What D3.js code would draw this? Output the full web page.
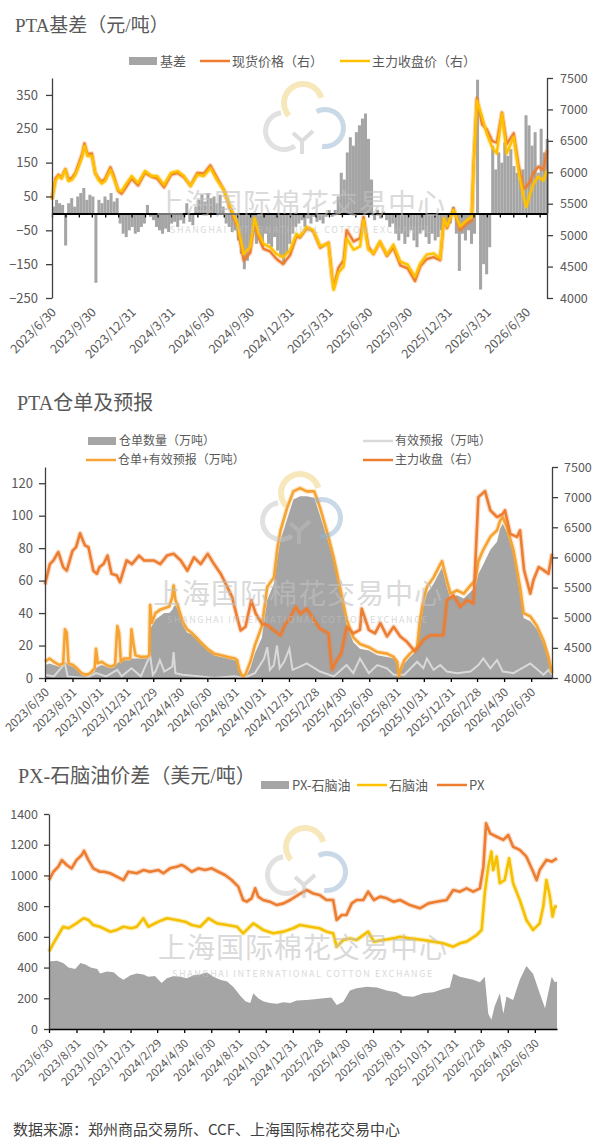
<!DOCTYPE html>
<html><head><meta charset="utf-8">
<script src="https://cdn.jsdelivr.net/npm/d3@7"></script>
<style>
body{margin:0;background:#fff}
svg text{font-family:"Noto Sans CJK SC","Noto Sans",sans-serif}
</style></head>
<body><svg id="c" width="601" height="1148"></svg>
<script>
// ---------------- DATA ----------------
// Panel 1: PTA basis
const topXLabels = ["2023/6/30","2023/9/30","2023/12/31","2024/3/31","2024/6/30","2024/9/30","2024/12/31","2025/3/31","2025/6/30","2025/9/30","2025/12/31","2026/3/31","2026/6/30"];
const topLeftTicks = [-250,-150,-50,50,150,250,350];
const topRightTicks = [4000,4500,5000,5500,6000,6500,7000,7500];
const basisStart = "2023-06-30"; // weekly bars
const basisWeekly = [
 20,40,30,25,-95,30,45,20,50,60,75,40,55,50,-205,40,30,50,40,60,35,45,-30,-60,-70,-50,-40,
 -60,-55,-40,-30,25,-10,-20,-40,-50,-60,-45,-55,-30,-25,-40,-20,-30,30,-25,-35,20,40,55,35,60,45,50,30,55,20,-30,-40,-55,-50,-80,-120,-165,-140,-100,-60,-90,-70,-100,-60,-90,-100,-70,-110,-130,-150,-120,-90,
 -60,-40,-30,-20,-40,-15,-30,-10,-25,-20,-30,-10,10,-10,10,50,120,100,180,225,200,240,260,280,295,220,100,-20,10,-15,5,-20,-40,-30,-60,-80,-60,-90,-70,-50,-80,-100,-60,-50,-70,-90,-60,-80,-70,-50,-20,-40,
 -30,20,-60,-170,-60,-80,-50,-90,-60,395,-225,-150,-180,-100,200,130,180,150,210,170,190,140,120,100,130,290,260,200,240,120,250,180,220
];
const topMainClose = [
 ["2023-06-30",5560],["2023-07-08",5870],["2023-07-15",5940],["2023-07-22",5900],["2023-07-31",6040],["2023-08-07",5860],["2023-08-15",5880],["2023-08-23",5960],["2023-08-31",6100],["2023-09-08",6250],["2023-09-13",6420],["2023-09-20",6260],["2023-09-30",6260],["2023-10-08",6000],["2023-10-15",5880],["2023-10-23",5820],["2023-10-31",5860],["2023-11-12",6040],["2023-11-20",5900],["2023-11-30",5720],["2023-12-08",5700],["2023-12-15",5780],["2023-12-31",5940],
 ["2024-01-15",5830],["2024-01-31",6020],["2024-02-15",5940],["2024-02-28",5940],["2024-03-15",5800],["2024-03-31",5990],["2024-04-15",6020],["2024-04-30",5940],["2024-05-15",5780],["2024-05-31",5960],["2024-06-15",5940],["2024-06-30",6070],["2024-07-15",5880],["2024-07-31",5720],["2024-08-15",5450],["2024-08-31",5190],["2024-09-15",4700],["2024-09-30",4810],["2024-10-10",5270],["2024-10-20",5020],["2024-10-31",4860],["2024-11-15",4810],["2024-11-30",4700],["2024-12-15",4650],["2024-12-31",4760],
 ["2025-01-15",5020],["2025-01-23",4980],["2025-02-08",5130],["2025-02-23",5080],["2025-03-11",4820],["2025-03-30",4870],["2025-04-07",4340],["2025-04-11",4130],["2025-04-22",4400],["2025-05-04",4500],["2025-05-11",4950],["2025-05-27",4770],["2025-06-11",4820],["2025-06-19",5240],["2025-06-30",4770],["2025-07-12",4710],["2025-07-27",4900],["2025-08-12",4690],["2025-08-27",4850],["2025-09-12",4580],["2025-09-29",4530],["2025-10-16",4340],["2025-10-28",4550],["2025-11-12",4690],["2025-11-28",4710],["2025-12-13",4630],["2025-12-22",5270],["2025-12-29",5140],
 ["2026-01-13",5400],["2026-01-28",5140],["2026-02-13",5240],["2026-02-24",5290],["2026-02-28",6030],["2026-03-08",7140],["2026-03-20",6880],["2026-03-31",6610],["2026-04-12",6400],["2026-04-23",6300],["2026-05-05",6930],["2026-05-16",6300],["2026-06-01",6560],["2026-06-12",6030],["2026-06-24",5610],["2026-06-30",5450],["2026-07-09",5660],["2026-07-17",5820],["2026-07-28",5930],["2026-08-09",5870],["2026-08-17",6030]
];
const topSpotPrice = [
 ["2023-06-30",5580],["2023-07-08",5900],["2023-07-15",5960],["2023-07-22",5920],["2023-07-31",6050],["2023-08-07",5890],["2023-08-15",5910],["2023-08-23",5990],["2023-08-31",6140],["2023-09-08",6300],["2023-09-13",6460],["2023-09-20",6290],["2023-09-30",6300],["2023-10-08",5980],["2023-10-15",5910],["2023-10-23",5850],["2023-10-31",5900],["2023-11-12",6080],["2023-11-20",5940],["2023-11-30",5700],["2023-12-08",5660],["2023-12-15",5730],["2023-12-31",5900],
 ["2024-01-15",5790],["2024-01-31",5990],["2024-02-15",5930],["2024-02-28",5900],["2024-03-15",5760],["2024-03-31",5960],["2024-04-15",5990],["2024-04-30",5920],["2024-05-15",5790],["2024-05-31",5990],["2024-06-15",5980],["2024-06-30",6110],["2024-07-15",5920],["2024-07-31",5720],["2024-08-15",5420],["2024-08-31",5140],["2024-09-15",4600],["2024-09-30",4720],["2024-10-10",5200],["2024-10-20",4950],["2024-10-31",4780],["2024-11-15",4740],["2024-11-30",4620],["2024-12-15",4540],["2024-12-31",4680],
 ["2025-01-15",4980],["2025-01-23",4960],["2025-02-08",5110],["2025-02-23",5060],["2025-03-11",4800],["2025-03-30",4880],["2025-04-07",4360],["2025-04-11",4170],["2025-04-22",4480],["2025-05-04",4600],["2025-05-11",5080],["2025-05-27",4900],["2025-06-11",4950],["2025-06-19",5290],["2025-06-30",4820],["2025-07-12",4700],["2025-07-27",4890],["2025-08-12",4670],["2025-08-27",4800],["2025-09-12",4520],["2025-09-29",4470],["2025-10-16",4270],["2025-10-28",4500],["2025-11-12",4620],["2025-11-28",4650],["2025-12-13",4600],["2025-12-22",5260],["2025-12-29",5110],
 ["2026-01-13",5420],["2026-01-28",5080],["2026-02-13",5190],["2026-02-24",5230],["2026-02-28",6050],["2026-03-08",7180],["2026-03-20",6760],["2026-03-31",6680],["2026-04-12",6500],["2026-04-23",6470],["2026-05-05",6950],["2026-05-16",6450],["2026-06-01",6620],["2026-06-12",6120],["2026-06-24",5740],["2026-06-30",5770],["2026-07-09",5850],["2026-07-17",5990],["2026-07-28",6090],["2026-08-09",6040],["2026-08-17",6350]
];

// Panel 2: PTA warehouse receipts & forecast
const midXLabels = ["2023/6/30","2023/8/31","2023/10/31","2023/12/31","2024/2/29","2024/4/30","2024/6/30","2024/8/31","2024/10/31","2024/12/31","2025/2/28","2025/4/30","2025/6/30","2025/8/31","2025/10/31","2025/12/31","2026/2/28","2026/4/30","2026/6/30"];
const midLeftTicks = [0,20,40,60,80,100,120];
const midRightTicks = [4000,4500,5000,5500,6000,6500,7000,7500];
const midDates = ["2023-06-30","2023-07-10","2023-07-20","2023-08-01","2023-08-10","2023-08-14","2023-08-18","2023-08-22","2023-09-01","2023-09-10","2023-09-20","2023-10-01","2023-10-10","2023-10-20","2023-10-23","2023-10-27","2023-11-05","2023-11-15","2023-11-25","2023-12-05","2023-12-10","2023-12-14","2023-12-18","2023-12-25",
 "2024-01-08","2024-01-11","2024-01-15","2024-01-20","2024-02-01","2024-02-15","2024-02-20","2024-02-22","2024-02-26","2024-03-05","2024-03-15","2024-03-25","2024-04-05","2024-04-12","2024-04-15","2024-04-19","2024-04-25","2024-05-05","2024-05-15","2024-05-25","2024-06-05","2024-06-15","2024-06-30","2024-07-15","2024-07-31","2024-08-15","2024-08-31","2024-09-05","2024-09-10","2024-09-15","2024-09-20","2024-09-25","2024-10-05","2024-10-15","2024-10-31","2024-11-12","2024-11-27","2024-12-05","2024-12-12","2024-12-27",
 "2025-01-10","2025-01-25","2025-02-09","2025-02-26","2025-03-11","2025-03-30","2025-04-11","2025-04-28","2025-05-10","2025-05-25","2025-06-09","2025-06-29","2025-07-18","2025-08-09","2025-08-24","2025-09-01","2025-09-05","2025-09-08","2025-09-17","2025-09-30","2025-10-16","2025-10-22","2025-10-30","2025-11-07","2025-11-22","2025-12-07","2025-12-11","2025-12-22","2025-12-30",
 "2026-01-14","2026-01-29","2026-02-13","2026-02-24","2026-03-03","2026-03-14","2026-03-30","2026-04-14","2026-04-21","2026-04-27","2026-05-06","2026-05-21","2026-06-05","2026-06-13","2026-06-28","2026-07-13","2026-07-28","2026-08-08","2026-08-16"];
const midReceipts = [8,9,8,7,8,10,9,8,7,5,2,1,2,4,6,7,8,7,6,7,9,10,9,11,
 11,12,12,12,12,12,13,30,32,36,38,40,40,42,44,45,42,33,28,27,24,21,17,14,13,12,11,10,4,1,0,1,6,15,25,48,58,74,85,98,
 110,112,112,111,100,84,72,50,33,22,18,17,14,13,12,9,0,3,9,13,17,30,44,52,58,66,68,56,49,
 51,49,53,56,64,70,79,84,92,95,90,77,52,37,35,30,21,11,2];
const midReceiptsPlusForecast = [10,12,10,8,9,30,28,9,8,6,3,2,3,6,18,9,10,8,7,8,32,28,10,12,
 12,30,22,14,13,13,14,45,34,40,42,43,44,50,57,48,44,35,30,28,25,22,18,15,14,13,12,11,5,2,1,3,10,20,32,56,62,80,91,105,
 115,117,115,115,105,87,74,52,36,25,21,19,16,15,13,10,1,5,11,15,19,35,48,56,62,70,72,60,52,
 54,52,57,60,72,79,87,91,97,99,93,79,56,40,38,32,23,13,3];
const midForecast = [
 ["2023-06-30",2],["2023-07-20",1],["2023-08-14",9],["2023-08-20",1],["2023-10-01",0],["2023-10-23",3],["2023-11-15",1],["2023-12-10",5],["2023-12-20",1],
 ["2024-01-11",6],["2024-02-01",1],["2024-02-22",14],["2024-02-28",2],["2024-03-05",4],["2024-03-15",11],["2024-03-25",4],["2024-04-12",7],["2024-04-15",16],["2024-04-19",3],["2024-05-05",2],["2024-06-15",1],["2024-07-15",0],["2024-08-31",1],["2024-09-20",0],["2024-10-15",3],["2024-11-05",12],["2024-11-12",19],["2024-11-18",5],["2024-11-27",8],["2024-12-04",20],["2024-12-10",6],["2024-12-20",10],
 ["2025-01-01",18],["2025-01-08",5],["2025-01-25",7],["2025-02-09",9],["2025-03-11",4],["2025-04-11",1],["2025-05-10",8],["2025-05-25",3],["2025-06-09",12],["2025-06-29",3],["2025-07-18",8],["2025-08-09",6],["2025-08-24",2],["2025-09-17",2],["2025-10-16",10],["2025-10-30",6],["2025-11-07",12],["2025-11-22",5],["2025-12-07",8],["2025-12-22",4],
 ["2026-01-14",3],["2026-02-13",4],["2026-03-03",8],["2026-03-14",12],["2026-03-30",6],["2026-04-14",11],["2026-04-27",4],["2026-05-21",3],["2026-06-28",9],["2026-07-28",2],["2026-08-08",5],["2026-08-16",2]
];
const midMainClose = [
 ["2023-06-30",5550],["2023-07-11",5890],["2023-07-19",5950],["2023-07-30",6090],["2023-08-10",5840],["2023-08-18",5780],["2023-08-31",6110],["2023-09-08",6170],["2023-09-17",6400],["2023-09-28",6200],["2023-10-06",6170],["2023-10-17",5780],["2023-10-25",5730],["2023-10-31",5840],["2023-11-09",5890],["2023-11-18",6030],["2023-11-27",5730],["2023-12-09",5700],["2023-12-16",5590],["2023-12-31",5950],
 ["2024-01-12",5890],["2024-01-28",6030],["2024-02-08",5950],["2024-03-01",5950],["2024-03-16",5890],["2024-03-31",6030],["2024-04-15",6060],["2024-05-01",5950],["2024-05-16",5780],["2024-05-31",6000],["2024-06-15",5890],["2024-07-01",6060],["2024-07-15",5890],["2024-07-30",5730],["2024-08-14",5510],["2024-08-25",5340],["2024-09-05",5010],["2024-09-13",4790],["2024-09-24",4850],["2024-10-07",5290],["2024-10-17",5070],["2024-10-31",4900],["2024-11-12",4880],["2024-11-27",4790],["2024-12-12",4710],["2024-12-23",4900],["2024-12-31",4960],
 ["2025-01-15",5180],["2025-01-26",5060],["2025-02-09",5150],["2025-02-26",4960],["2025-03-11",4820],["2025-03-30",4740],["2025-04-07",4140],["2025-04-18",4300],["2025-04-28",4410],["2025-05-10",4850],["2025-05-25",4740],["2025-06-09",4800],["2025-06-13",5150],["2025-06-29",4800],["2025-07-13",4740],["2025-07-25",4910],["2025-08-09",4690],["2025-08-24",4850],["2025-09-08",4690],["2025-09-23",4600],["2025-10-11",4440],["2025-10-30",4630],["2025-11-14",4710],["2025-11-29",4710],["2025-12-14",4710],["2025-12-22",5290],
 ["2026-01-06",5370],["2026-01-21",5180],["2026-02-05",5290],["2026-02-20",5240],["2026-03-03",7000],["2026-03-18",7100],["2026-03-30",6780],["2026-04-14",6670],["2026-04-27",6720],["2026-05-02",6780],["2026-05-14",6390],["2026-05-29",6340],["2026-06-05",6450],["2026-06-14",5790],["2026-06-28",5400],["2026-07-05",5620],["2026-07-17",5840],["2026-07-28",5790],["2026-08-08",5730],["2026-08-16",6060]
];

// Panel 3: PX - naphtha spread
const botXLabels = midXLabels;
const botTicks = [0,200,400,600,800,1000,1200,1400];
const pxPrice = [
 ["2023-06-30",970],["2023-07-10",1024],["2023-07-21",1057],["2023-07-29",1100],["2023-08-09",1068],["2023-08-20",1046],["2023-08-31",1100],["2023-09-12",1133],["2023-09-17",1160],["2023-09-27",1100],["2023-10-08",1046],["2023-10-23",1024],["2023-11-01",1024],["2023-11-15",1014],["2023-11-30",992],["2023-12-15",970],["2023-12-26",1024],
 ["2024-01-14",1014],["2024-01-29",1035],["2024-02-13",1024],["2024-03-03",1035],["2024-03-14",1014],["2024-03-29",1046],["2024-04-13",1057],["2024-04-24",1068],["2024-05-02",1057],["2024-05-17",1024],["2024-06-01",1046],["2024-06-16",1035],["2024-07-01",1046],["2024-07-16",1024],["2024-07-31",1003],["2024-08-15",970],["2024-08-30",927],["2024-09-10",840],["2024-09-18",829],["2024-09-29",851],["2024-10-07",916],["2024-10-14",862],["2024-10-25",840],["2024-11-09",829],["2024-11-25",807],["2024-12-10",818],["2024-12-25",840],
 ["2025-01-16",880],["2025-01-31",905],["2025-02-15",883],["2025-03-01",873],["2025-03-17",840],["2025-04-01",840],["2025-04-09",710],["2025-04-20",742],["2025-05-01",742],["2025-05-13",818],["2025-05-24",840],["2025-06-08",840],["2025-06-19",894],["2025-07-02",840],["2025-07-16",862],["2025-07-31",851],["2025-08-15",829],["2025-08-30",840],["2025-09-21",807],["2025-10-14",786],["2025-11-02",818],["2025-11-20",829],["2025-12-13",840],["2025-12-28",905],
 ["2026-01-12",894],["2026-01-27",916],["2026-02-11",894],["2026-02-26",916],["2026-03-06",1057],["2026-03-12",1339],["2026-03-21",1274],["2026-04-05",1252],["2026-04-20",1231],["2026-05-01",1263],["2026-05-12",1187],["2026-05-27",1166],["2026-06-11",1122],["2026-06-26",1025],["2026-07-04",970],["2026-07-11",1035],["2026-07-26",1101],["2026-08-07",1090],["2026-08-19",1111]
];
const naphthaPrice = [
 ["2023-06-30",504],["2023-07-10",558],["2023-07-21",612],["2023-08-01",666],["2023-08-13",656],["2023-08-31",688],["2023-09-16",721],["2023-09-27",710],["2023-10-08",677],["2023-10-23",666],["2023-11-15",634],["2023-11-30",645],["2023-12-15",666],
 ["2024-01-02",656],["2024-01-14",666],["2024-01-29",721],["2024-02-09",666],["2024-03-03",699],["2024-03-22",721],["2024-04-13",710],["2024-05-02",699],["2024-05-17",677],["2024-06-05",666],["2024-06-24",721],["2024-07-13",688],["2024-08-05",677],["2024-08-27",666],["2024-09-10",623],["2024-10-03",688],["2024-10-25",645],["2024-11-17",623],["2024-12-10",634],
 ["2025-01-01",656],["2025-01-16",677],["2025-02-08",666],["2025-03-01",656],["2025-03-17",634],["2025-04-01",623],["2025-04-09",536],["2025-04-24",580],["2025-05-09",590],["2025-05-24",580],["2025-06-19",634],["2025-07-02",569],["2025-07-23",580],["2025-08-15",590],["2025-08-30",601],["2025-09-21",590],["2025-10-21",580],["2025-11-13",569],["2025-12-05",558],["2025-12-28",536],
 ["2026-01-12",558],["2026-01-27",569],["2026-02-19",612],["2026-03-02",645],["2026-03-09",883],["2026-03-17",1057],["2026-03-24",1155],["2026-03-28",1035],["2026-04-05",1122],["2026-04-12",949],["2026-04-23",970],["2026-05-03",1111],["2026-05-12",949],["2026-05-27",840],["2026-06-11",710],["2026-06-26",645],["2026-07-11",688],["2026-07-19",797],["2026-07-26",970],["2026-08-03",862],["2026-08-09",732],["2026-08-14",797],["2026-08-19",797]
];
const pxNaphthaSpread = [
 ["2023-06-30",440],["2023-07-18",445],["2023-08-01",430],["2023-08-13",400],["2023-08-28",390],["2023-09-09",430],["2023-09-20",420],["2023-10-02",400],["2023-10-17",390],["2023-10-23",362],["2023-11-08",375],["2023-11-23",370],["2023-12-04",340],["2023-12-15",320],["2023-12-31",350],
 ["2024-01-14",362],["2024-01-29",355],["2024-02-09",340],["2024-02-24",345],["2024-03-10",300],["2024-03-22",330],["2024-04-06",345],["2024-04-21",340],["2024-05-06",330],["2024-05-21",350],["2024-06-05",355],["2024-06-20",370],["2024-07-05",340],["2024-07-20",320],["2024-08-05",310],["2024-08-20",270],["2024-09-04",215],["2024-09-15",180],["2024-09-26",170],["2024-10-03",232],["2024-10-14",200],["2024-10-25",180],["2024-11-09",170],["2024-11-25",165],["2024-12-10",175],["2024-12-25",170],
 ["2025-01-09",185],["2025-01-31",189],["2025-02-23",195],["2025-03-10",200],["2025-03-28",205],["2025-04-09",156],["2025-04-24",178],["2025-05-09",250],["2025-05-24",265],["2025-06-16",275],["2025-07-09",270],["2025-07-31",250],["2025-08-22",240],["2025-09-06",215],["2025-09-29",210],["2025-10-21",232],["2025-11-13",240],["2025-12-05",260],["2025-12-20",270],["2025-12-28",360],
 ["2026-01-12",340],["2026-01-27",330],["2026-02-11",320],["2026-02-26",305],["2026-03-09",340],["2026-03-17",100],["2026-03-24",60],["2026-03-31",145],["2026-04-12",232],["2026-04-20",100],["2026-04-27",211],["2026-05-12",189],["2026-05-27",320],["2026-06-11",410],["2026-06-26",360],["2026-07-11",232],["2026-07-23",135],["2026-07-30",232],["2026-08-07",340],["2026-08-14",305],["2026-08-19",310]
];

// ---------------- DRAW ----------------
const parse = d3.timeParse("%Y-%m-%d");
const parseLabel = d3.timeParse("%Y/%m/%d");
const pairs = a => a.map(d => ({date: parse(d[0]), value: d[1]}));
const fmt = d3.format("d");
const svg = d3.select("#c");
const AXIS = "#404040", LABEL = "#595959";
const C_GRAY = "#a5a5a5", C_ORANGE = "#ed7d31", C_YELLOW = "#ffc000", C_LORANGE = "#f5a332", C_LGRAY = "#d9d9d9";

function title(x, y, t, size) {
  svg.append("text").attr("x", x).attr("y", y).attr("fill", "#595959")
    .style("font-family", '"Liberation Serif","Noto Sans CJK SC",serif')
    .attr("font-size", size).text(t);
}
function legendRect(x, y, t, fs) {
  svg.append("rect").attr("x", x).attr("y", y - 4).attr("width", 28).attr("height", 8).attr("fill", C_GRAY);
  svg.append("text").attr("x", x + 31).attr("y", y).attr("dy", "0.35em").attr("font-size", fs).attr("fill", LABEL).text(t);
}
function legendLine(x, y, color, t, fs) {
  svg.append("line").attr("x1", x).attr("x2", x + 30).attr("y1", y).attr("y2", y).attr("stroke", color).attr("stroke-width", 2.5);
  svg.append("text").attr("x", x + 32).attr("y", y).attr("dy", "0.35em").attr("font-size", fs).attr("fill", LABEL).text(t);
}
function styleAxis(g, fs) {
  g.selectAll("path,line").attr("stroke", AXIS).attr("stroke-width", 1.3);
  g.selectAll("text").attr("fill", LABEL).attr("font-size", fs)
    .style("font-family", '"Noto Sans CJK SC","Noto Sans",sans-serif');
}
function xLabels(x, labels, yBase, fs) {
  const g = svg.append("g");
  labels.forEach(l => {
    const px = x(parseLabel(l));
    g.append("text").attr("transform", `translate(${px + 5},${yBase + 15}) rotate(-45)`)
      .attr("text-anchor", "end").attr("font-size", fs).attr("fill", LABEL).text(l);
  });
}
function drawLine(data, x, y, color, w) {
  const line = d3.line().x(d => x(d.date)).y(d => y(d.value));
  svg.append("path").datum(data).attr("d", line).attr("fill", "none")
    .attr("stroke", color).attr("stroke-opacity", 0.25).attr("stroke-width", w + 2.5).attr("stroke-linejoin", "round");
  svg.append("path").datum(data).attr("d", line).attr("fill", "none")
    .attr("stroke", color).attr("stroke-width", w).attr("stroke-linejoin", "round");
}
function watermark(cx, cy) {
  const g = svg.append("g").style("pointer-events", "none");
  const logo = g.append("g").attr("opacity", 0.5);
  const arc = d3.arc();
  logo.append("path").attr("transform", `translate(${cx + 2},${cy - 100})`)
    .attr("d", arc({innerRadius: 16, outerRadius: 22, startAngle: -2.3, endAngle: 1.3})).attr("fill", "#f1d27a");
  logo.append("path").attr("transform", `translate(${cx - 17},${cy - 72})`)
    .attr("d", arc({innerRadius: 16, outerRadius: 21, startAngle: Math.PI * 0.8, endAngle: Math.PI * 1.95})).attr("fill", "#c4c4c4");
  logo.append("path").attr("transform", `translate(${cx + 24},${cy - 75})`)
    .attr("d", arc({innerRadius: 16, outerRadius: 21, startAngle: -0.15 * Math.PI, endAngle: 1.05 * Math.PI})).attr("fill", "#94b4d2");
  logo.append("path").attr("d", `M${cx - 8},${cy - 70} L${cx + 1},${cy - 62} L${cx + 1},${cy - 49} M${cx + 12},${cy - 72} L${cx + 1},${cy - 62}`)
    .attr("stroke", "#bdbdbd").attr("stroke-width", 4).attr("fill", "none");
  const t = g.append("g").attr("opacity", 0.6);
  t.append("text").attr("x", cx).attr("y", cy).attr("dy", "0.38em").attr("text-anchor", "middle")
    .attr("font-size", 28).attr("letter-spacing", 1).attr("fill", "#c2c2c2").text("上海国际棉花交易中心");
  t.append("text").attr("x", cx).attr("y", cy + 27).attr("dy", "0.35em").attr("text-anchor", "middle")
    .attr("font-size", 9).attr("letter-spacing", 1.6).attr("fill", "#c2c2c2").text("SHANGHAI INTERNATIONAL COTTON EXCHANGE");
}

// ===== Panel 1 =====
title(15, 32, "PTA基差（元/吨）", 19);
legendRect(129, 61, "基差", 13);
legendLine(200, 61, C_ORANGE, "现货价格（右）", 13);
legendLine(340, 61, C_YELLOW, "主力收盘价（右）", 13);
{
  const x = d3.scaleTime().domain([parse("2023-06-30"), parse("2026-08-17")]).range([52, 547]);
  const yL = d3.scaleLinear().domain([-250, 400]).range([298, 78]);
  const yR = d3.scaleLinear().domain([4000, 7500]).range([298, 78]);
  const start = parse(basisStart);
  const bars = basisWeekly.map((v, i) => ({date: d3.timeDay.offset(start, 7 * i), value: v}));
  svg.append("g").selectAll("rect").data(bars).join("rect")
    .attr("x", d => x(d.date))
    .attr("width", d => Math.max(0.5, x(d3.timeDay.offset(d.date, 7)) - x(d.date)))
    .attr("y", d => Math.min(yL(d.value), yL(0)))
    .attr("height", d => Math.abs(yL(d.value) - yL(0)))
    .attr("fill", C_GRAY);
  drawLine(pairs(topSpotPrice), x, yR, C_ORANGE, 2.4);
  drawLine(pairs(topMainClose), x, yR, C_YELLOW, 2.4);
  // zero axis with monthly ticks
  const monthEnds = d3.timeMonth.range(parse("2023-07-01"), parse("2026-08-02")).map(d => d3.timeDay.offset(d, -1));
  const gz = svg.append("g").attr("transform", `translate(0,${yL(0)})`)
    .call(d3.axisBottom(x).tickValues(monthEnds).tickSize(4).tickSizeOuter(0).tickFormat(""));
  gz.selectAll("path,line").attr("stroke", "#000").attr("stroke-width", 1.3);
  gz.select("path").attr("stroke-width", 2);
  const gl = svg.append("g").attr("transform", "translate(52,0)")
    .call(d3.axisLeft(yL).tickValues(topLeftTicks).tickFormat(fmt).tickSize(6).tickSizeOuter(0).tickPadding(8));
  styleAxis(gl, 13);
  const gr = svg.append("g").attr("transform", "translate(547,0)")
    .call(d3.axisRight(yR).tickValues(topRightTicks).tickFormat(fmt).tickSize(6).tickSizeOuter(0).tickPadding(7));
  styleAxis(gr, 12.5);
  xLabels(x, topXLabels, 298, 12.5);
  watermark(301, 203);
}

// ===== Panel 2 =====
title(17, 410, "PTA仓单及预报", 20);
legendRect(88, 441, "仓单数量（万吨）", 12);
legendLine(363, 441, C_LGRAY, "有效预报（万吨）", 12);
legendLine(86, 460, C_LORANGE, "仓单+有效预报（万吨）", 12);
legendLine(363, 460, C_ORANGE, "主力收盘（右）", 12);
{
  const x = d3.scaleTime().domain([parse("2023-06-30"), parse("2026-08-16")]).range([45, 552]);
  const yL = d3.scaleLinear().domain([0, 130]).range([678, 467]);
  const yR = d3.scaleLinear().domain([4000, 7500]).range([678, 467]);
  const rec = midDates.map((d, i) => ({date: parse(d), value: midReceipts[i]}));
  const sum = midDates.map((d, i) => ({date: parse(d), value: midReceiptsPlusForecast[i]}));
  svg.append("path").datum(rec).attr("fill", C_GRAY)
    .attr("d", d3.area().x(d => x(d.date)).y0(yL(0)).y1(d => yL(d.value)));
  const fl = d3.line().x(d => x(d.date)).y(d => yL(d.value));
  svg.append("path").datum(pairs(midForecast)).attr("d", fl).attr("fill", "none").attr("stroke", C_LGRAY).attr("stroke-width", 2);
  drawLine(sum, x, yL, C_LORANGE, 2.6);
  drawLine(pairs(midMainClose), x, yR, C_ORANGE, 2.6);
  const gb = svg.append("g").attr("transform", "translate(0,678)")
    .call(d3.axisBottom(x).tickValues(midXLabels.map(parseLabel)).tickSize(4).tickSizeOuter(0).tickFormat(""));
  gb.selectAll("path,line").attr("stroke", "#000").attr("stroke-width", 1.3);
  const gl = svg.append("g").attr("transform", "translate(45,0)")
    .call(d3.axisLeft(yL).tickValues(midLeftTicks).tickFormat(fmt).tickSize(6).tickSizeOuter(0).tickPadding(6));
  styleAxis(gl, 13);
  const gr = svg.append("g").attr("transform", "translate(552,0)")
    .call(d3.axisRight(yR).tickValues(midRightTicks).tickFormat(fmt).tickSize(6).tickSizeOuter(0).tickPadding(6));
  styleAxis(gr, 12.5);
  xLabels(x, midXLabels, 678, 12);
  watermark(298, 593);
}

// ===== Panel 3 =====
title(18, 783, "PX-石脑油价差（美元/吨）", 20);
legendRect(261, 785, "PX-石脑油", 13);
legendLine(357, 785, C_YELLOW, "石脑油", 13);
legendLine(437, 785, C_ORANGE, "PX", 13);
{
  const x = d3.scaleTime().domain([parse("2023-06-30"), parse("2026-08-19")]).range([49, 557]);
  const y = d3.scaleLinear().domain([0, 1400]).range([1029, 814]);
  svg.append("path").datum(pairs(pxNaphthaSpread)).attr("fill", C_GRAY)
    .attr("d", d3.area().x(d => x(d.date)).y0(y(0)).y1(d => y(d.value)));
  drawLine(pairs(naphthaPrice), x, y, "#f5c000", 2.6);
  drawLine(pairs(pxPrice), x, y, C_ORANGE, 2.6);
  const gb = svg.append("g").attr("transform", "translate(0,1029)")
    .call(d3.axisBottom(x).tickValues(botXLabels.map(parseLabel)).tickSize(4).tickSizeOuter(0).tickFormat(""));
  gb.selectAll("path,line").attr("stroke", "#000").attr("stroke-width", 1.3);
  const gl = svg.append("g").attr("transform", "translate(49,0)")
    .call(d3.axisLeft(y).tickValues(botTicks).tickFormat(fmt).tickSize(5).tickSizeOuter(0).tickPadding(6));
  styleAxis(gl, 12.5);
  xLabels(x, botXLabels, 1029, 11.5);
  watermark(303, 947);
}

svg.append("text").attr("x", 13).attr("y", 1130).attr("dy", "0.36em").attr("font-size", 15)
  .attr("fill", "#404040").text("数据来源：郑州商品交易所、CCF、上海国际棉花交易中心");
</script></body></html>
